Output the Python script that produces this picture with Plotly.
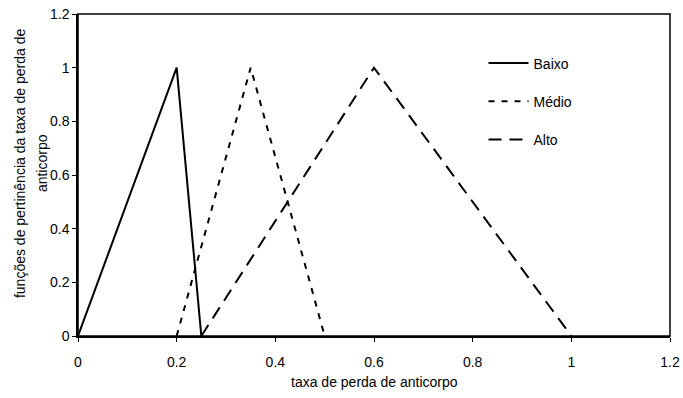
import plotly.graph_objects as go

series_names = ["Baixo", "Médio", "Alto"]
baixo_x = [0, 0.2, 0.25]
baixo_y = [0, 1, 0]
medio_x = [0.2, 0.35, 0.5]
medio_y = [0, 1, 0]
alto_x = [0.25, 0.6, 1.0]
alto_y = [0, 1, 0]
tick_vals = [0, 0.2, 0.4, 0.6, 0.8, 1, 1.2]
tick_text = ["0", "0.2", "0.4", "0.6", "0.8", "1", "1.2"]
x_title = "taxa de perda de anticorpo"
y_title_lines = ["funções de pertinência da taxa de perda de", "anticorpo"]

xs = [baixo_x, medio_x, alto_x]
ys = [baixo_y, medio_y, alto_y]
dashes = ["solid", "6px,7px", "13px,8px"]

FONT = "Liberation Sans, Arial"

fig = go.Figure()
for i, name in enumerate(series_names):
    fig.add_trace(go.Scatter(
        x=xs[i], y=ys[i], mode="lines", name=name,
        legendgroup=name,
        line=dict(color="black", width=2, dash=dashes[i]),
    ))

axis_common = dict(
    range=[0, 1.2], tickvals=tick_vals, ticktext=tick_text,
    showgrid=False, zeroline=False, showline=True, linecolor="black",
    linewidth=1.5, ticks="outside", ticklen=4, tickcolor="black", mirror=False,
    automargin=False,
    tickfont=dict(family=FONT, size=14, color="black"),
)

fig.update_layout(
    width=683, height=398,
    margin=dict(l=78, r=13, t=14, b=62),
    paper_bgcolor="white", plot_bgcolor="white",
    font=dict(family=FONT, size=14, color="black"),
    xaxis=dict(**axis_common, ticklabelstandoff=8),
    yaxis=dict(**axis_common),
    legend=dict(x=0.685, y=0.896, xanchor="left", yanchor="top",
                bgcolor="rgba(0,0,0,0)", tracegroupgap=17, itemwidth=40,
                font=dict(family=FONT, size=14)),
    showlegend=True,
    shapes=[dict(type="rect", xref="paper", yref="paper", x0=0, y0=0, x1=1, y1=1,
                 line=dict(color="black", width=1.5), fillcolor="rgba(0,0,0,0)")],
    annotations=[
        dict(text=x_title, xref="paper", yref="paper", x=0.5, y=-0.143,
             xanchor="center", yanchor="middle", showarrow=False,
             font=dict(family=FONT, size=14)),
        dict(text=y_title_lines[0], xref="paper", yref="paper", x=-0.098, y=0.537,
             xanchor="center", yanchor="middle", textangle=-90, showarrow=False,
             font=dict(family=FONT, size=14)),
        dict(text=y_title_lines[1], xref="paper", yref="paper", x=-0.0608, y=0.537,
             xanchor="center", yanchor="middle", textangle=-90, showarrow=False,
             font=dict(family=FONT, size=14)),
    ],
)

# Remove the default 8px page margin so the figure fills the window exactly.
fig.write_html("out.html", config={"displayModeBar": False},
               post_script="document.body.style.margin='0px';")
